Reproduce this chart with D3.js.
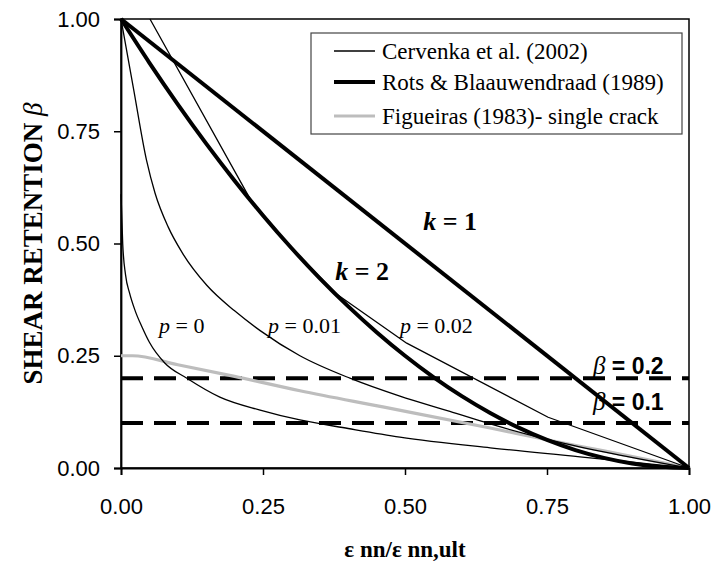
<!DOCTYPE html>
<html>
<head>
<meta charset="utf-8">
<script src="https://cdn.jsdelivr.net/npm/d3@7"></script>
<style>
body { margin: 0; background: #fff; }
</style>
</head>
<body>
<svg id="chart" width="713" height="563"></svg>
<script>
// tick values
var xTicks = [0, 0.25, 0.5, 0.75, 1];
var yTicks = [0, 0.25, 0.5, 0.75, 1];

// legend entries
var seriesNames = ["Cervenka et al. (2002)", "Rots & Blaauwendraad (1989)", "Figueiras (1983)- single crack"];

// Cervenka et al. (2002), [strain ratio, beta]
var cervP0 = [[0, 0.61], [0.003, 0.5], [0.008, 0.43], [0.015, 0.39], [0.025, 0.35], [0.037, 0.314],
  [0.05, 0.28], [0.077, 0.234], [0.116, 0.2], [0.174, 0.158], [0.245, 0.129], [0.315, 0.107],
  [0.4, 0.088], [0.491, 0.069], [0.65, 0.045], [0.808, 0.025], [0.9, 0.013], [1, 0]];
var cervP001 = [[0, 1], [0.022, 0.845], [0.045, 0.685], [0.06, 0.612], [0.083, 0.537], [0.109, 0.477],
  [0.151, 0.407], [0.2, 0.35], [0.245, 0.306], [0.315, 0.25], [0.403, 0.2], [0.491, 0.16],
  [0.579, 0.126], [0.65, 0.098], [0.75, 0.064], [0.85, 0.036], [1, 0]];
var cervP002 = [[0.051, 1], [0.227, 0.6], [0.3, 0.49], [0.38, 0.387], [0.503, 0.278], [0.752, 0.113], [1, 0]];

// Rots & Blaauwendraad (1989)
var rotsK1 = [[0, 1], [1, 0]];
var rotsK2 = [[0, 1], [0.05, 0.9025], [0.1, 0.81], [0.15, 0.7225], [0.2, 0.64], [0.25, 0.5625],
  [0.3, 0.49], [0.35, 0.4225], [0.4, 0.36], [0.45, 0.3025], [0.5, 0.25], [0.55, 0.2025],
  [0.6, 0.16], [0.65, 0.1225], [0.7, 0.09], [0.75, 0.0625], [0.8, 0.04], [0.85, 0.0225],
  [0.9, 0.01], [0.95, 0.0025], [1, 0]];

// Figueiras (1983) single crack
var figueiras = [[0, 0.25], [0.02, 0.25], [0.1, 0.23], [0.2, 0.204], [0.315, 0.172], [0.461, 0.136],
  [0.65, 0.089], [0.75, 0.063], [0.85, 0.038], [1, 0]];

// reference levels
var betaLevels = [0.2, 0.1];

var svg = d3.select("#chart");
var margin = {left: 121, top: 19, right: 24, bottom: 95};
var width = +svg.attr("width") - margin.left - margin.right;
var height = +svg.attr("height") - margin.top - margin.bottom;
var g = svg.append("g").attr("transform", "translate(" + margin.left + "," + margin.top + ")");

var x = d3.scaleLinear().domain([0, 1]).range([0, width]);
var y = d3.scaleLinear().domain([0, 1]).range([height, 0]);

var serif = "'Liberation Serif', 'Times New Roman', serif";
var sans = "'Liberation Sans', Arial, sans-serif";

// frame (top and right)
g.append("rect")
  .attr("width", width).attr("height", height)
  .attr("fill", "none").attr("stroke", "#000").attr("stroke-width", 1.5);

// axes
var xAxis = g.append("g").attr("transform", "translate(0," + height + ")")
  .call(d3.axisBottom(x).tickValues(xTicks).tickFormat(d3.format(".2f")).tickSizeOuter(0).tickSize(7).tickPadding(23));
var yAxis = g.append("g")
  .call(d3.axisLeft(y).tickValues(yTicks).tickFormat(d3.format(".2f")).tickSizeOuter(0).tickSize(7).tickPadding(14));
[xAxis, yAxis].forEach(function(a) {
  a.selectAll("path").attr("stroke", "#000").attr("stroke-width", 1.8);
  a.selectAll("line").attr("stroke", "#000").attr("stroke-width", 1.5);
  a.selectAll("text").attr("font-family", sans).attr("font-size", 22).attr("fill", "#000");
});

// dashed beta lines
g.selectAll(".level").data(betaLevels).enter().append("line")
  .attr("x1", 0).attr("x2", width)
  .attr("y1", function(d) { return y(d); }).attr("y2", function(d) { return y(d); })
  .attr("stroke", "#000").attr("stroke-width", 4).attr("stroke-dasharray", "22,11");

var smooth = d3.line().curve(d3.curveMonotoneX)
  .x(function(d) { return x(d[0]); }).y(function(d) { return y(d[1]); });
var straight = d3.line()
  .x(function(d) { return x(d[0]); }).y(function(d) { return y(d[1]); });

var curves = [
  {data: figueiras, color: "#bdbdbd", w: 3.2, gen: smooth},
  {data: cervP0, color: "#000", w: 1.3, gen: smooth},
  {data: cervP001, color: "#000", w: 1.3, gen: smooth},
  {data: cervP002, color: "#000", w: 1.3, gen: straight},
  {data: rotsK2, color: "#000", w: 4, gen: smooth},
  {data: rotsK1, color: "#000", w: 4, gen: straight}
];
g.selectAll(".curve").data(curves).enter().append("path")
  .attr("d", function(d) { return d.gen(d.data); })
  .attr("fill", "none")
  .attr("stroke", function(d) { return d.color; })
  .attr("stroke-width", function(d) { return d.w; })
  .attr("stroke-linejoin", "round");

// legend
var legendStyle = [{color: "#000", w: 1.3}, {color: "#000", w: 4}, {color: "#bdbdbd", w: 3.2}];
var legend = g.append("g").attr("transform", "translate(" + (311 - margin.left) + "," + (33 - margin.top) + ")");
legend.append("rect").attr("width", 371).attr("height", 101)
  .attr("fill", "#fff").attr("stroke", "#444").attr("stroke-width", 1.2);
var rows = legend.selectAll(".row").data(seriesNames).enter().append("g")
  .attr("transform", function(d, i) { return "translate(0," + [18, 49, 83][i] + ")"; });
rows.append("line").attr("x1", 23).attr("x2", 64)
  .attr("stroke", function(d, i) { return legendStyle[i].color; })
  .attr("stroke-width", function(d, i) { return legendStyle[i].w; });
rows.append("text").attr("x", 71).attr("y", 8)
  .attr("font-family", serif).attr("font-size", 23)
  .text(function(d) { return d; });

// curve annotations
function label(px, py, parts) {
  var t = g.append("text").attr("x", px).attr("y", py);
  parts.forEach(function(p) {
    t.append("tspan").text(p.t)
      .attr("font-family", p.f).attr("font-size", p.s)
      .attr("font-style", p.i ? "italic" : "normal")
      .attr("font-weight", p.b ? "bold" : "normal");
  });
  return t;
}
label(x(0.067), y(0.30), [{t: "p", f: serif, s: 22, i: true}, {t: " = 0", f: serif, s: 22}]);
label(x(0.259), y(0.30), [{t: "p", f: serif, s: 22, i: true}, {t: " = 0.01", f: serif, s: 22}]);
label(x(0.491), y(0.30), [{t: "p", f: serif, s: 22, i: true}, {t: " = 0.02", f: serif, s: 22}]);
label(x(0.532), y(0.53), [{t: "k", f: serif, s: 26, i: true, b: true}, {t: " = 1", f: serif, s: 26, b: true}]);
label(x(0.377), y(0.418), [{t: "k", f: serif, s: 26, i: true, b: true}, {t: " = 2", f: serif, s: 26, b: true}]);
label(x(0.831), y(0.21), [{t: "β", f: serif, s: 25, i: true}, {t: " = 0.2", f: sans, s: 23, b: true}]);
label(x(0.831), y(0.13), [{t: "β", f: serif, s: 25, i: true}, {t: " = 0.1", f: sans, s: 23, b: true}]);

// axis titles
svg.append("text")
  .attr("transform", "translate(42," + (margin.top + height / 2) + ") rotate(-90)")
  .attr("text-anchor", "middle")
  .attr("font-family", serif).attr("font-size", 27).attr("font-weight", "bold")
  .text("SHEAR RETENTION ")
  .append("tspan").attr("font-style", "italic").attr("font-weight", "normal").text("β");

svg.append("text")
  .attr("x", margin.left + width / 2).attr("y", 557)
  .attr("text-anchor", "middle")
  .attr("font-family", serif).attr("font-size", 23).attr("font-weight", "bold")
  .text("ε nn/ε nn,ult");
</script>
</body>
</html>
